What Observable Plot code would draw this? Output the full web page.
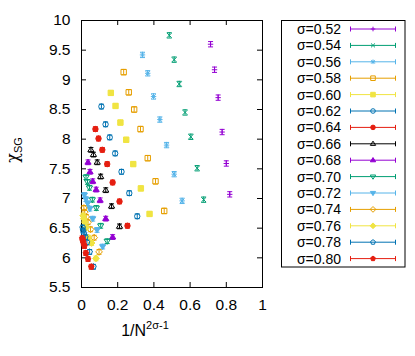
<!DOCTYPE html>
<html><head><meta charset="utf-8">
<script src="https://cdn.jsdelivr.net/npm/d3@7"></script>
<script src="https://cdn.jsdelivr.net/npm/@observablehq/plot@0.6"></script>
<style>body{margin:0;background:#fff} #chart{width:415px;height:356px}</style>
</head><body><div id="chart"></div>
<script>
const sigmas = [0.52,0.54,0.56,0.58,0.60,0.62,0.64,0.66,0.68,0.70,0.72,0.74,0.76,0.78,0.80];
const labels = sigmas.map(s => "σ=" + s.toFixed(2));
const colors = ["#9400d3","#009e73","#56b4e9","#e69f00","#f0e442","#0072b2","#e51e10","#000000",
                "#9400d3","#009e73","#56b4e9","#e69f00","#f0e442","#0072b2","#e51e10"];
const shapes = ["plus","times","asterisk","square","squareF","circle","circleF","triangle","triangleF",
                "itriangle","itriangleF","diamond","diamondF","pentagon","pentagonF"];
const xs = [
  [0.819,0.800,0.777,0.755,0.735,0.713],
  [0.675,0.639,0.604,0.572,0.540,0.512,0.485],
  [0.556,0.512,0.470,0.433,0.398,0.366,0.337],
  [0.457,0.409,0.366,0.326,0.291,0.261,0.233],
  [0.376,0.328,0.286,0.247,0.215,0.188,0.162],
  [0.308,0.264,0.221,0.186,0.156,0.133,0.110],
  [0.254,0.210,0.172,0.142,0.115,0.094,0.077],
  [0.210,0.166,0.134,0.106,0.087,0.066,0.052],
  [0.172,0.134,0.103,0.081,0.062,0.047,0.036],
  [0.142,0.106,0.082,0.060,0.044,0.033,0.025],
  [0.117,0.086,0.062,0.046,0.034,0.024,0.016],
  [0.097,0.070,0.050,0.036,0.026,0.018,0.013],
  [0.080,0.056,0.039,0.027,0.019,0.013,0.009],
  [0.066,0.045,0.030,0.021,0.014,0.009,0.006],
  [0.054,0.036,0.024,0.016,0.010,0.007,0.004]
];
const ys = [
  [7.07,7.59,8.12,8.70,9.17,9.60],
  [6.98,7.51,8.04,8.45,8.93,9.34,9.75],
  [6.96,7.41,7.90,8.33,8.72,9.11,9.42],
  [6.79,7.29,7.68,8.17,8.50,8.79,9.13],
  [6.74,7.17,7.58,7.99,8.28,8.56,8.78],
  [6.70,7.09,7.45,7.76,8.03,8.25,8.55],
  [6.54,6.95,7.27,7.58,7.82,8.01,8.17],
  [6.53,6.87,7.14,7.37,7.61,7.74,7.82],
  [6.35,6.66,6.97,7.15,7.29,7.45,7.61],
  [6.28,6.54,6.84,6.98,7.18,7.28,7.36],
  [6.19,6.47,6.66,6.83,6.92,6.99,7.06],
  [6.10,6.34,6.48,6.60,6.69,6.77,6.84],
  [5.99,6.25,6.34,6.51,6.60,6.66,6.71],
  [5.85,6.10,6.26,6.35,6.41,6.46,6.51],
  [5.85,5.98,6.08,6.20,6.26,6.30,6.33]
];
const errs = [0.045,0.045,0.045,0.045,0.04,0.04,0.04,0.04,0.04,0.04,0.04,0.04,0.04,0.04,0.04];
const xTicks = [0,0.2,0.4,0.6,0.8,1];
const yTicks = [5.5,6,6.5,7,7.5,8,8.5,9,9.5,10];

function poly(ctx, pts){ctx.moveTo(pts[0][0],pts[0][1]);for(let i=1;i<pts.length;i++)ctx.lineTo(pts[i][0],pts[i][1]);ctx.closePath();}
function drawShape(name, ctx, h){
  const base = name.replace("F","");
  if (base==="plus"){ctx.moveTo(-h,0);ctx.lineTo(h,0);ctx.moveTo(0,-h);ctx.lineTo(0,h);}
  else if (base==="times"){const k=h*0.85;ctx.moveTo(-k,-k);ctx.lineTo(k,k);ctx.moveTo(-k,k);ctx.lineTo(k,-k);}
  else if (base==="asterisk"){const k=h*0.8;ctx.moveTo(-h,0);ctx.lineTo(h,0);ctx.moveTo(0,-h);ctx.lineTo(0,h);ctx.moveTo(-k,-k);ctx.lineTo(k,k);ctx.moveTo(-k,k);ctx.lineTo(k,-k);}
  else if (base==="square"){poly(ctx,[[-h,-h],[h,-h],[h,h],[-h,h]]);}
  else if (base==="circle"){ctx.moveTo(h,0);ctx.arc(0,0,h,0,2*Math.PI);}
  else if (base==="triangle"){const a=h*1.15;poly(ctx,[[0,-a],[a,a*0.6],[-a,a*0.6]]);}
  else if (base==="itriangle"){const a=h*1.15;poly(ctx,[[0,a],[a,-a*0.6],[-a,-a*0.6]]);}
  else if (base==="diamond"){const a=h*1.25;poly(ctx,[[0,-a],[a,0],[0,a],[-a,0]]);}
  else if (base==="pentagon"){const a=h*1.1;const p=[];for(let i=0;i<5;i++){const t=-Math.PI/2+i*2*Math.PI/5;p.push([a*Math.cos(t),a*Math.sin(t)]);}poly(ctx,p);}
  else if (base==="cap"){ctx.moveTo(-h,0);ctx.lineTo(h,0);}
}
function sym(name){return {draw(ctx,size){drawShape(name,ctx,Math.sqrt(size/Math.PI));}};}
const isFilled = n => n.endsWith("F");

const W=415,H=356,mL=81,mR=153,mT=20,mB=69;
const innerH=H-mT-mB, innerW=W-mL-mR;

const marks = [
  Plot.frame({stroke:"black"}),
  Plot.ruleX(xTicks,{x:d=>d,insetTop:innerH-5,stroke:"black"}),
  Plot.ruleX(xTicks,{x:d=>d,insetBottom:innerH-5,stroke:"black"}),
  Plot.ruleY(yTicks,{y:d=>d,insetRight:innerW-5,stroke:"black"}),
  Plot.ruleY(yTicks,{y:d=>d,insetLeft:innerW-5,stroke:"black"}),
  Plot.axisX(xTicks,{tickSize:0,tickPadding:11,fontSize:15.5,label:null,tickFormat:d=>String(d)}),
  Plot.axisY(yTicks,{tickSize:0,tickPadding:11,fontSize:15.5,label:null,tickFormat:d=>String(d)})
];
sigmas.forEach((s,i)=>{
  const rows = xs[i].map((x,j)=>({x, y: ys[i][j], e: errs[i]}));
  const c = colors[i];
  marks.push(Plot.ruleX(rows,{x:"x",y1:d=>d.y-d.e,y2:d=>d.y+d.e,stroke:c,strokeWidth:1}));
  marks.push(Plot.dot(rows,{x:"x",y:d=>d.y+d.e,symbol:sym("cap"),r:2.5,stroke:c,fill:"none",strokeWidth:1}));
  marks.push(Plot.dot(rows,{x:"x",y:d=>d.y-d.e,symbol:sym("cap"),r:2.5,stroke:c,fill:"none",strokeWidth:1}));
  const f = isFilled(shapes[i]);
  marks.push(Plot.dot(rows,{x:"x",y:"y",symbol:sym(shapes[i]),r:2.7,stroke:c,fill:f?c:"none",strokeWidth:1}));
});

const chart = Plot.plot({
  width:W,height:H,marginLeft:mL,marginRight:mR,marginTop:mT,marginBottom:mB,
  x:{domain:[0,1]}, y:{domain:[5.5,10]},
  style:{fontFamily:"'Liberation Sans', Arial, sans-serif",fontSize:"15px",background:"white"},
  marks
});
document.getElementById("chart").appendChild(chart);

const svg = d3.select(chart);
const font = "'Liberation Sans', Arial, sans-serif";
const xt = svg.append("text").attr("x",145).attr("y",336).attr("font-family",font).attr("font-size",16).attr("fill","black");
xt.append("tspan").text("1/N");
xt.append("tspan").attr("dy",-7).attr("font-size",11).text("2σ-1");
const yt = svg.append("text").attr("transform","translate(18,150) rotate(-90)").attr("text-anchor","middle").attr("font-family",font).attr("font-size",16).attr("fill","black");
yt.append("tspan").attr("font-family","'DejaVu Serif', serif").text("χ");
yt.append("tspan").attr("dy",4).attr("font-size",11).text("SG");

const lg = svg.append("g");
lg.append("rect").attr("x",281.5).attr("y",20.5).attr("width",123.5).attr("height",246.5).attr("fill","white").attr("stroke","black");
sigmas.forEach((s,i)=>{
  const y = 29 + i*16.4, c = colors[i];
  lg.append("text").attr("x",341).attr("y",y).attr("dy","0.35em").attr("text-anchor","end")
    .attr("font-family",font).attr("font-size",14).attr("fill","black").text(labels[i]);
  lg.append("line").attr("x1",350).attr("x2",396).attr("y1",y).attr("y2",y).attr("stroke",c);
  lg.append("line").attr("x1",350.5).attr("x2",350.5).attr("y1",y-2.5).attr("y2",y+2.5).attr("stroke",c);
  lg.append("line").attr("x1",395.5).attr("x2",395.5).attr("y1",y-2.5).attr("y2",y+2.5).attr("stroke",c);
  const p = d3.path(); drawShape(shapes[i], p, 2.3);
  lg.append("path").attr("transform",`translate(373,${y})`).attr("d",p.toString())
    .attr("stroke",c).attr("fill",isFilled(shapes[i])?c:"none");
});
</script></body></html>
